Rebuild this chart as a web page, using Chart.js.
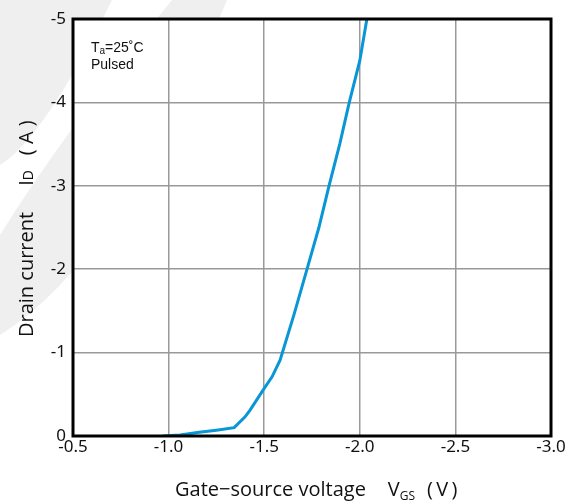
<!DOCTYPE html>
<html>
<head>
<meta charset="utf-8">
<script src="https://cdn.jsdelivr.net/npm/chart.js@4/dist/chart.umd.min.js"></script>
<style>
  html, body { margin: 0; padding: 0; background: #fff; }
  #wrap { width: 573px; height: 503px; position: relative; }
</style>
</head>
<body>
<div id="wrap"><canvas id="myChart" width="573" height="503"></canvas></div>
<script>
'use strict';
// values
var gateVoltage = [-0.97, -1.06, -1.16, -1.25, -1.343, -1.40, -1.426, -1.494, -1.541, -1.583, -1.655, -1.724, -1.786, -1.839, -1.895, -1.945, -2.0, -2.037];
var drainCurrent = [0, -0.012, -0.045, -0.07, -0.1, -0.23, -0.31, -0.55, -0.71, -0.91, -1.45, -2.0, -2.5, -3.0, -3.5, -4.0, -4.5, -5.0];
var xTicks = [-0.5, -1.0, -1.5, -2.0, -2.5, -3.0];
var yTicks = [0, -1, -2, -3, -4, -5];

var FONT = '"Noto Sans", "Open Sans", sans-serif';
var TITLE_FONT = '"Open Sans", "Noto Sans", sans-serif';
var NOTE_FONT = '"Liberation Sans", Arial, sans-serif';

// draws a row of text pieces, some of them smaller / lowered
function drawPieces(ctx, pieces, x, y) {
    pieces.forEach(function (p) {
        x += p.gap || 0;
        ctx.font = p.size + 'px ' + (p.family || TITLE_FONT);
        ctx.fillText(p.text, x, y + (p.dy || 0));
        x += ctx.measureText(p.text).width;
    });
}

var decor = {
    id: 'decor',
    beforeDraw: function (chart) {
        var ctx = chart.ctx;
        var a = chart.chartArea;
        ctx.save();
        ctx.fillStyle = '#ffffff';
        ctx.fillRect(0, 0, chart.width, chart.height);
        // faint watermark behind the plot
        ctx.fillStyle = '#efefef';
        ctx.beginPath();
        ctx.moveTo(0, 0);
        ctx.lineTo(112, 0);
        ctx.quadraticCurveTo(44, 138, 0, 165);
        ctx.closePath();
        ctx.fill();
        ctx.beginPath();
        ctx.moveTo(172, 0);
        ctx.lineTo(227, 0);
        ctx.quadraticCurveTo(120, 260, 0, 335);
        ctx.lineTo(0, 235);
        ctx.quadraticCurveTo(64, 132, 172, 0);
        ctx.closePath();
        ctx.fill();

        ctx.fillStyle = '#ffffff';
        ctx.fillRect(a.left, a.top, a.right - a.left, a.bottom - a.top);
        ctx.restore();
    },
    afterDraw: function (chart) {
        var ctx = chart.ctx;
        var a = chart.chartArea;
        ctx.save();
        ctx.strokeStyle = '#000';
        ctx.lineWidth = 3;
        ctx.strokeRect(a.left, a.top, a.right - a.left, a.bottom - a.top);

        ctx.fillStyle = '#111';
        ctx.textBaseline = 'alphabetic';
        // note in the corner
        drawPieces(ctx, [
            { text: 'T', size: 14, family: NOTE_FONT },
            { text: 'a', size: 10, dy: 2, family: NOTE_FONT },
            { text: '=25\u02DAC', size: 14, family: NOTE_FONT }
        ], 91, 52);
        drawPieces(ctx, [{ text: 'Pulsed', size: 14, family: NOTE_FONT }], 91, 69);

        // x title
        drawPieces(ctx, [
            { text: 'Gate\u2212source voltage', size: 20 },
            { text: 'V', size: 20, gap: 22 },
            { text: 'GS', size: 12, dy: 4 },
            { text: '(\u2009V\u2009)', size: 20, gap: 12 }
        ], 175, 496);

        // y title, rotated
        ctx.translate(33, 337);
        ctx.rotate(-Math.PI / 2);
        drawPieces(ctx, [
            { text: 'Drain current', size: 20 },
            { text: 'I', size: 20, gap: 26 },
            { text: 'D', size: 14 },
            { text: '( A )', size: 20, gap: 15 }
        ], 0, 0);
        ctx.restore();
    }
};

var points = gateVoltage.map(function (v, i) {
    return { x: v, y: drainCurrent[i] };
});

var ctx = document.getElementById('myChart');
var myChart = new Chart(ctx, {
    type: 'scatter',
    data: {
        datasets: [{
            data: points,
            showLine: true,
            borderColor: 'rgb(8, 150, 214)',
            borderWidth: 3,
            pointRadius: 0,
            tension: 0
        }]
    },
    options: {
        responsive: false,
        animation: false,
        layout: { padding: { top: 19, right: 22, left: 0, bottom: 0 } },
        plugins: { legend: { display: false }, tooltip: { enabled: false } },
        scales: {
            x: {
                type: 'linear',
                min: -3,
                max: -0.5,
                reverse: true,
                afterBuildTicks: function (scale) {
                    scale.ticks = xTicks.map(function (v) { return { value: v }; });
                },
                afterFit: function (scale) { scale.height = 67; },
                ticks: {
                    color: '#111',
                    font: { family: FONT, size: 17 },
                    padding: 1,
                    maxRotation: 0,
                    callback: function (v) { return v.toFixed(1); }
                },
                grid: { color: '#999', lineWidth: 1.5, drawTicks: false },
                border: { display: false }
            },
            y: {
                type: 'linear',
                min: -5,
                max: 0,
                reverse: true,
                afterBuildTicks: function (scale) {
                    scale.ticks = yTicks.map(function (v) { return { value: v }; });
                },
                afterFit: function (scale) { scale.width = 73; },
                ticks: {
                    color: '#111',
                    font: { family: FONT, size: 17 },
                    padding: 7,
                    callback: function (v) { return String(v); }
                },
                grid: { color: '#999', lineWidth: 1.5, drawTicks: false },
                border: { display: false }
            }
        }
    },
    plugins: [decor]
});
</script>
</body>
</html>
